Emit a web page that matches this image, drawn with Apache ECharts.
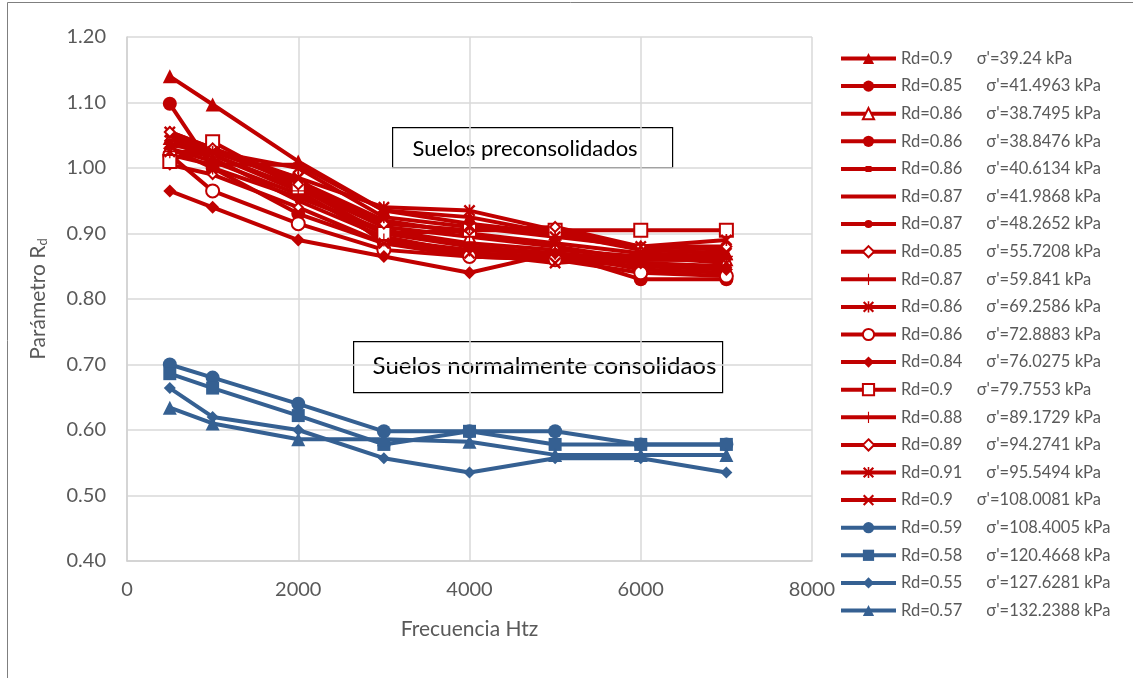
<!DOCTYPE html>
<html>
<head>
<meta charset="utf-8">
<script src="https://cdn.jsdelivr.net/npm/echarts@6/dist/echarts.min.js"></script>
<style>
  html, body { margin: 0; padding: 0; background: #fff; }
  #chart { width: 1133px; height: 678px; }
</style>
</head>
<body>
<div id="chart"></div>
<script>
// frequencies (Hz)
let freqs = [500, 1000, 2000, 3000, 4000, 5000, 6000, 7000];

// preconsolidated soils (red)
let redRd = ['0.9', '0.85', '0.86', '0.86', '0.86', '0.87', '0.87', '0.85', '0.87', '0.86', '0.86', '0.84', '0.9', '0.88', '0.89', '0.91', '0.9'];
let redSigma = ['39.24', '41.4963', '38.7495', '38.8476', '40.6134', '41.9868', '48.2652', '55.7208', '59.841', '69.2586', '72.8883', '76.0275', '79.7553', '89.1729', '94.2741', '95.5494', '108.0081'];
let redValues = [
    [1.140, 1.097, 1.010, 0.935, 0.925, 0.900, 0.875, 0.870],
    [1.098, 1.000, 0.930, 0.885, 0.875, 0.870, 0.830, 0.830],
    [1.045, 1.020, 0.970, 0.910, 0.895, 0.880, 0.860, 0.860],
    [1.030, 1.010, 0.960, 0.900, 0.880, 0.870, 0.845, 0.840],
    [1.050, 1.025, 0.980, 0.920, 0.900, 0.885, 0.870, 0.865],
    [1.020, 1.005, 1.005, 0.935, 0.915, 0.900, 0.880, 0.875],
    [1.040, 1.015, 0.950, 0.895, 0.870, 0.865, 0.855, 0.850],
    [1.005, 0.990, 0.940, 0.885, 0.865, 0.860, 0.850, 0.845],
    [1.030, 1.000, 0.955, 0.905, 0.885, 0.875, 0.865, 0.865],
    [1.055, 1.030, 0.985, 0.940, 0.935, 0.905, 0.875, 0.870],
    [1.020, 0.965, 0.915, 0.875, 0.865, 0.860, 0.840, 0.835],
    [0.965, 0.940, 0.890, 0.865, 0.840, 0.870, 0.855, 0.845],
    [1.010, 1.040, 0.970, 0.900, 0.905, 0.905, 0.905, 0.905],
    [1.025, 1.020, 0.965, 0.890, 0.875, 0.870, 0.860, 0.860],
    [1.055, 1.030, 0.975, 0.915, 0.905, 0.910, 0.880, 0.880],
    [1.035, 1.025, 1.000, 0.925, 0.910, 0.895, 0.880, 0.890],
    [1.025, 1.025, 0.985, 0.885, 0.870, 0.855, 0.865, 0.855]
];

// normally consolidated soils (blue)
let blueRd = ['0.59', '0.58', '0.55', '0.57'];
let blueSigma = ['108.4005', '120.4668', '127.6281', '132.2388'];
let blueValues = [
    [0.700, 0.680, 0.640, 0.598, 0.598, 0.598, 0.578, 0.578],
    [0.686, 0.664, 0.622, 0.578, 0.598, 0.578, 0.578, 0.578],
    [0.664, 0.620, 0.600, 0.557, 0.535, 0.557, 0.557, 0.535],
    [0.634, 0.610, 0.586, 0.586, 0.582, 0.562, 0.562, 0.562]
];

//markers
let plusPath = 'path://M9,0H11V9H20V11H11V20H9V11H0V9H9Z';
let crossPath = 'path://M0,1.4L1.4,0L10,8.6L8.6,10Z M8.6,0L10,1.4L1.4,10L0,8.6Z';
let starPath = 'path://M0,1.4L1.4,0L10,8.6L8.6,10Z M8.6,0L10,1.4L1.4,10L0,8.6Z M4.3,0H5.7V10H4.3Z';

let redMarks = [
    ['triangle', 14], ['circle', 14], ['emptyTriangle', 11], ['circle', 10], ['rect', 7],
    ['none', 0], ['circle', 7], ['emptyDiamond', 9], [plusPath, 13], [starPath, 12],
    ['emptyCircle', 13], ['diamond', 13], ['emptyRect', 13], [plusPath, 13], ['emptyDiamond', 10],
    [starPath, 12], [crossPath, 12]
];
let blueMarks = [['circle', 14], ['rect', 13], ['diamond', 12], ['triangle', 14]];

// legend icons for the tiny markers (line + small mark), box 55x14
let iconBox = 'M27,0h0.05v0.05h-0.05Z M27,13.95h0.05v0.05h-0.05Z ';
let iconLine = 'M0,5H55V9H0Z ';
let legendIcons = {
    5: 'path://' + iconBox + iconLine,
    4: 'path://' + iconBox + iconLine + 'M24.5,4H30.5V10H24.5Z',
    6: 'path://' + iconBox + iconLine + 'M23.5,7A4,4 0 1,1 31.5,7A4,4 0 1,1 23.5,7Z'
};

let red = '#C00000';
let blue = '#356092';
let textColor = '#595959';
let font = 'Lato';

function makeSeries(name, values, color, mark) {
    return {
        name: name,
        type: 'line',
        data: freqs.map(function (f, i) { return [f, values[i]]; }),
        symbol: mark[0],
        symbolSize: mark[1],
        showAllSymbol: true,
        lineStyle: { color: color, width: 4 },
        itemStyle: { color: color, borderColor: color, borderWidth: mark[0].indexOf('empty') === 0 ? 2 : 0 },
        emphasis: { disabled: true },
        animation: false
    };
}

let series = [];
let legendData = [];
for (let i = 0; i < redValues.length; i++) {
    let name = 'Rd=' + redRd[i] + '|' + redSigma[i];
    series.push(makeSeries(name, redValues[i], red, redMarks[i]));
    legendData.push(legendIcons[i] ? { name: name, icon: legendIcons[i] } : { name: name });
}
for (let i = 0; i < blueValues.length; i++) {
    let name = 'Rd=' + blueRd[i] + '|' + blueSigma[i];
    series.push(makeSeries(name, blueValues[i], blue, blueMarks[i]));
    legendData.push({ name: name });
}

let chart = echarts.init(document.getElementById('chart'));

let option = {
    backgroundColor: '#fff',
    animation: false,
    textStyle: { fontFamily: font },
    grid: { left: 127, right: 321, top: 37, bottom: 117 },
    xAxis: {
        type: 'value',
        min: 0,
        max: 8000,
        interval: 2000,
        name: 'Frecuencia Htz',
        nameLocation: 'middle',
        nameGap: 58,
        nameTextStyle: { fontSize: 21, color: textColor, fontFamily: font },
        axisLine: { show: true, lineStyle: { color: '#d0d0d0', width: 1.5 } },
        axisTick: { show: false },
        axisLabel: {
            fontSize: 20, color: textColor, margin: 19, fontFamily: font,
            formatter: function (v) { return String(v); }
        },
        splitLine: { show: true, lineStyle: { color: '#d9d9d9', width: 1.5 } }
    },
    yAxis: {
        type: 'value',
        min: 0.4,
        max: 1.2,
        interval: 0.1,
        name: 'Parámetro R{sub|d}',
        nameLocation: 'middle',
        nameGap: 78,
        nameRotate: 90,
        nameTextStyle: {
            fontSize: 21, color: textColor, fontFamily: font,
            rich: { sub: { fontSize: 13, color: textColor, verticalAlign: 'bottom', padding: [8, 0, 0, 0], fontFamily: font } }
        },
        axisLine: { show: true, lineStyle: { color: '#d0d0d0', width: 1.5 } },
        axisTick: { show: false },
        axisLabel: {
            fontSize: 20, color: textColor, margin: 21, fontFamily: font,
            formatter: function (v) { return v.toFixed(2); }
        },
        splitLine: { show: true, lineStyle: { color: '#d9d9d9', width: 1.5 } }
    },
    legend: {
        orient: 'vertical',
        left: 834,
        top: 45,
        itemWidth: 55,
        itemHeight: 14,
        itemGap: 10.6,
        selectedMode: false,
        data: legendData,
        lineStyle: { width: 4 },
        textStyle: {
            fontSize: 16.5, color: textColor, fontFamily: font,
            rich: {
                rd: { fontSize: 16.5, color: textColor, fontFamily: font },
                sg: { fontSize: 16.5, color: textColor, fontFamily: font, padding: [0, 0, 0, 24] }
            }
        },
        formatter: function (name) {
            let parts = name.split('|');
            return '{rd|' + parts[0] + '}{sg|σ\'=' + parts[1] + ' kPa}';
        }
    },
    graphic: [
        {
            type: 'rect', left: 5, top: 0, silent: true,
            shape: { width: 1126, height: 676 },
            style: { fill: 'none', stroke: '#7f7f7f', lineWidth: 1 }
        },
        {
            type: 'group', left: 392, top: 127,
            children: [
                { type: 'rect', shape: { width: 280, height: 40 }, style: { fill: '#fff', stroke: '#000', lineWidth: 1.2 } },
                { type: 'text', left: 20, top: 10, style: { text: 'Suelos preconsolidados', font: '22px Lato', fill: '#000' } }
            ]
        },
        {
            type: 'group', left: 353, top: 341,
            children: [
                { type: 'rect', shape: { width: 369, height: 51 }, style: { fill: '#fff', stroke: '#000', lineWidth: 1.2 } },
                { type: 'text', left: 19, top: 13, style: { text: 'Suelos normalmente consolidaos', font: '24px Lato', fill: '#000' } }
            ]
        }
    ],
    series: series
};

chart.setOption(option);
</script>
</body>
</html>
